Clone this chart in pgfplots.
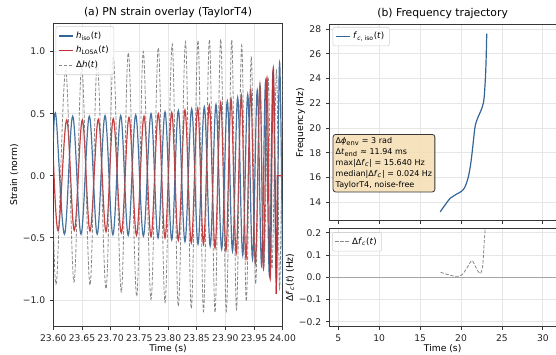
\documentclass[border=0pt]{standalone}
\usepackage{fontspec}
\setmainfont{DejaVu Sans}
\usepackage{pgfplots}
\pgfplotsset{compat=1.18}
\definecolor{cblue}{RGB}{52,100,150}
\definecolor{cred}{RGB}{192,44,48}
\definecolor{cgray}{RGB}{115,115,115}
\definecolor{wheatc}{RGB}{245,222,179}
\definecolor{spine}{RGB}{55,55,55}
\definecolor{gridc}{RGB}{230,230,230}
\newcommand{\basefont}{\fontsize{6.9}{8}\selectfont}
\newcommand{\titlefont}{\fontsize{8.1}{9.5}\selectfont}
\newcommand{\legfont}{\fontsize{6.5}{7.5}\selectfont}
\pgfplotsset{legend image code/.code={\draw[#1] (0pt,0pt) -- (10.5pt,0pt);}}
\pgfplotsset{
  common/.style={
    scale only axis,
    axis line style={spine, line width=0.6pt},
    tick style={spine, line width=0.6pt},
    tick align=outside,
    major tick length=2.6pt,
    xtick pos=bottom, ytick pos=left,
    grid=major,
    major grid style={gridc, line width=0.6pt},
    ticklabel style={font=\basefont, text=black!85},
    label style={font=\basefont},
    xlabel shift=-5pt,
    ylabel shift=-3.5pt,
    title style={font=\titlefont, yshift=-5.5pt},
    /pgf/number format/assume math mode=true,
    legend cell align=left,
    legend style={font=\legfont, draw=gray!35, rounded corners=1.5pt, fill=white, fill opacity=0.8, text opacity=1, inner sep=1.8pt, row sep=0.6pt},
  },
  dh/.style={cgray, opacity=0.85, line width=0.6pt, dash pattern=on 2.6pt off 1.2pt},
}
\begin{document}
\begin{tikzpicture}
\useasboundingbox (0,0) rectangle (417pt,265.5pt);
% ---------------- left panel ----------------
\begin{axis}[common, at={(39.98pt,20.48pt)}, anchor=south west,
  width=172.05pt, height=227.55pt,
  xmin=23.6, xmax=24.0, ymin=-1.215, ymax=1.228,
  xtick={23.60,23.65,23.70,23.75,23.80,23.85,23.90,23.95,24.00},
  xticklabels={23.60,23.65,23.70,23.75,23.80,23.85,23.90,23.95,24.00},
  ytick={-1,-0.5,0,0.5,1},
  yticklabels={−1.0,−0.5,0.0,0.5,1.0},
  title={(a) PN strain overlay (TaylorT4)},
  xlabel={Time (s)}, ylabel={Strain (norm)},
  legend style={at={(0.01,0.99)}, anchor=north west},
]
\addplot[cblue, line width=0.9pt, opacity=0.9, smooth, tension=0.6, forget plot] coordinates {
(23.6000,0.27) (23.6047,0.48) (23.6194,-0.47) (23.6338,0.48) (23.6483,-0.47) (23.6628,0.48) (23.6765,-0.47) (23.6902,0.485) (23.7039,-0.475) (23.7175,0.485) (23.7306,-0.48) (23.7437,0.49) (23.7571,-0.485) (23.7704,0.50) (23.7826,-0.50) (23.7948,0.515) (23.8065,-0.515) (23.8180,0.525) (23.8296,-0.53) (23.8413,0.54) (23.8523,-0.55) (23.8633,0.555) (23.8736,-0.565) (23.8837,0.575) (23.8936,-0.59) (23.9034,0.60) (23.9125,-0.607) (23.9215,0.63) (23.9303,-0.64) (23.9390,0.655) (23.9474,-0.67) (23.9557,0.69) (23.9632,-0.72) (23.9702,0.76) (23.9768,-0.80) (23.9831,0.84) (23.9890,-0.86) (23.9946,0.91) (24.0000,-0.87)
};
\addplot[cred, line width=0.9pt, opacity=0.9, smooth, tension=0.6, forget plot] coordinates {
(23.6000,0.15) (23.6087,-0.44) (23.6234,0.45) (23.6366,-0.44) (23.6506,0.45) (23.6640,-0.445) (23.6785,0.455) (23.6919,-0.45) (23.7046,0.46) (23.7186,-0.46) (23.7320,0.47) (23.7451,-0.48) (23.7582,0.48) (23.7704,-0.49) (23.7831,0.50) (23.7948,-0.50) (23.8065,0.51) (23.8180,-0.52) (23.8296,0.53) (23.8406,-0.54) (23.8518,0.545) (23.8619,-0.55) (23.8720,0.57) (23.8820,-0.58) (23.8919,0.59) (23.9010,-0.60) (23.9099,0.62) (23.9189,-0.625) (23.9278,0.645) (23.9360,-0.665) (23.9442,0.69) (23.9524,-0.705) (23.9604,0.73) (23.9665,-0.75) (23.9726,0.79) (23.9782,-0.83) (23.9836,0.87) (23.9888,-0.95)
};
\addplot[cred, line width=0.9pt, opacity=0.9, forget plot] coordinates {(23.9888,-0.95) (23.9906,0) (24.0000,0)};
\addplot[dh, smooth, tension=0.6, forget plot] coordinates {
(23.6000,-0.30) (23.6059,-0.84) (23.6216,0.85) (23.6361,-0.855) (23.6495,0.875) (23.6640,-0.88) (23.6767,0.90) (23.6919,-0.91) (23.7046,0.95) (23.7186,-0.935) (23.7308,0.99) (23.7454,-0.97) (23.7569,1.00) (23.7704,-0.995) (23.7831,1.03) (23.7948,-1.02) (23.8073,1.06) (23.8180,-1.05) (23.8305,1.08) (23.8406,-1.07) (23.8523,1.09) (23.8619,-1.09) (23.8722,1.095) (23.8820,-1.10) (23.8919,1.10) (23.9017,-1.09) (23.9111,1.095) (23.9194,-1.075) (23.9285,1.05) (23.9365,-1.01) (23.9451,0.955) (23.9528,-0.87) (23.9604,0.75) (23.9674,-0.72) (23.9749,0.78) (23.9813,-0.75) (23.9892,0.85) (23.9946,-0.91) (24.0000,0.87)
};
\addlegendimage{cblue, line width=0.9pt}
\addlegendentry{\textit{h}\textsubscript{iso}(\textit{t})}
\addlegendimage{cred, line width=0.9pt}
\addlegendentry{\textit{h}\textsubscript{LOSA}(\textit{t})}
\addlegendimage{dh}
\addlegendentry{Δ\textit{h}(\textit{t})}
\end{axis}
% ---------------- right top ----------------
\begin{axis}[common, at={(246.98pt,99.98pt)}, anchor=south west,
  width=170pt, height=147.5pt,
  xmin=3.9, xmax=31.6, ymin=12.52, ymax=28.4,
  xtick={5,10,15,20,25,30}, xticklabels={},
  ytick={14,16,18,20,22,24,26,28},
  title={(b) Frequency trajectory},
  ylabel={Frequency (Hz)},
  legend style={at={(0.015,0.985)}, anchor=north west},
]
\addplot[cblue, line width=0.9pt, smooth] coordinates {
(17.45,13.24) (18.04,13.78) (18.66,14.32) (19.47,14.67) (20.09,14.91) (20.49,15.26) (20.89,16.06) (21.19,17.15) (21.43,18.48) (21.71,20.1) (22.04,20.82) (22.53,21.58) (22.81,22.39) (23.02,24.67) (23.14,27.63)
};
\addlegendentry{\textit{f}\textsubscript{\textit{c}, iso}(\textit{t})}
\end{axis}
% ---------------- right bottom ----------------
\begin{axis}[common, at={(246.98pt,20.48pt)}, anchor=south west,
  width=170pt, height=73.8pt,
  xmin=3.9, xmax=31.6, ymin=-0.222, ymax=0.22,
  xtick={5,10,15,20,25,30},
  ytick={-0.2,-0.1,0,0.1,0.2},
  yticklabels={−0.2,−0.1,0.0,0.1,0.2},
  xlabel={Time (s)},
  ylabel={Δ\textit{f}\textsubscript{\textit{c}}(\textit{t}) (Hz)},
  legend style={at={(0.012,0.96)}, anchor=north west},
]
\addplot[gray!70, line width=0.7pt, forget plot] coordinates {(3.9,0) (31.6,0)};
\addplot[dh, smooth, tension=0.5] coordinates {
(17.50,0.0225) (18.25,0.0135) (19.06,0.006) (19.67,0.0045) (20.09,0.010) (20.70,0.040) (21.31,0.075) (21.71,0.052) (22.11,0.025) (22.41,0.018) (22.65,0.055) (22.81,0.145) (22.97,0.24) (23.05,0.40)
};
\addlegendentry{Δ\textit{f}\textsubscript{\textit{c}}(\textit{t})}
\end{axis}
% ---------------- info box ----------------
\node[draw=spine, line width=0.6pt, rounded corners=2pt, fill=wheatc, fill opacity=0.85, text opacity=1, align=left, anchor=north west, inner xsep=2pt, inner ysep=2.5pt, font=\fontsize{6}{8.1}\selectfont] at (249.5pt,165pt) {Δ\textit{ϕ}\textsubscript{env} = 3 rad\\Δ\textit{t}\textsubscript{end} ≈ 11.94 ms\\max|Δ\textit{f}\textsubscript{\textit{c}}| = 15.640 Hz\\median|Δ\textit{f}\textsubscript{\textit{c}}| = 0.024 Hz\\TaylorT4, noise-free};
\end{tikzpicture}
\end{document}
